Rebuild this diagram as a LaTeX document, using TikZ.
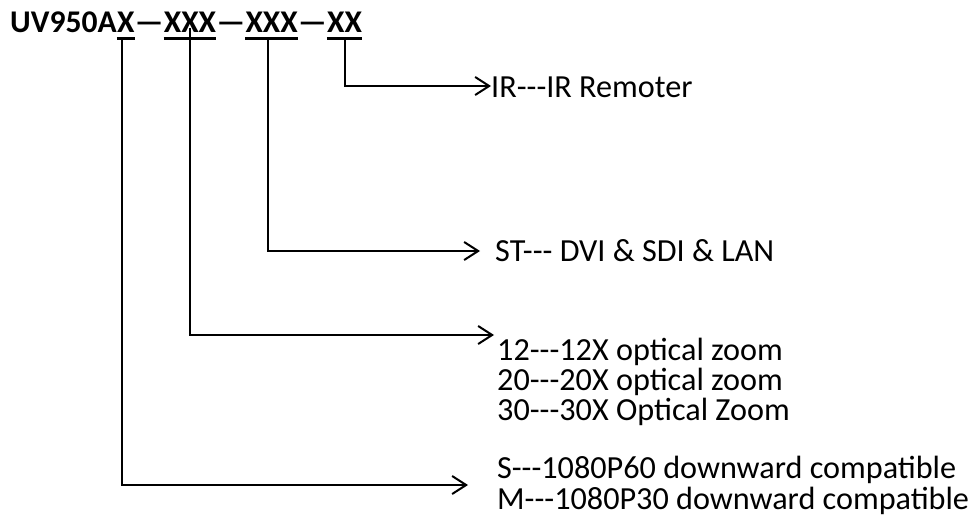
\documentclass[tikz,border=0pt]{standalone}
\usepackage{fontspec}
\setmainfont{Carlito}[Ligatures=TeXOff]
\usetikzlibrary{arrows.meta,positioning}

\begin{document}
\begin{tikzpicture}[x=1pt,y=-1pt,
    part/.style={inner sep=0pt, anchor=base west, font=\fontsize{31.6}{32}\selectfont\bfseries},
    desc/.style={inner sep=0pt, anchor=base west, font=\fontsize{32.2}{32}\selectfont},
    uline/.style={line width=3pt},
    link/.style={line width=2pt, -{Straight Barb[length=14pt,width=18pt,line width=2pt]}}]
    \useasboundingbox (0,0) rectangle (977,519);

    % Model code
    \node[part] (prefix) at (10,33) {UV950A};
    \node[part] (res) at (prefix.base east) {X};
    \node[part] (d1) at (res.base east) {—};
    \node[part] (zoom) at (d1.base east) {XXX};
    \node[part] (d2) at (zoom.base east) {—};
    \node[part] (iface) at (d2.base east) {XXX};
    \node[part] (d3) at (iface.base east) {—};
    \node[part] (ctrl) at (d3.base east) {XX};

    % Underlines
    \foreach \p in {res,zoom,iface,ctrl}
        \draw[uline] ([yshift=-5.5pt]\p.base west) -- ([yshift=-5.5pt]\p.base east);

    % Options
    \node[desc] (irtxt) at (491,97) {IR---IR Remoter};
    \node[desc] (sttxt) at (495,261) {ST--- DVI \& SDI \& LAN};
    \node[desc] (z12) at (497,360) {12---12X optical zoom};
    \node[desc] (z20) at (497,390) {20---20X optical zoom};
    \node[desc] (z30) at (497,420) {30---30X Optical Zoom};
    \node[desc] (modeS) at (497,478) {S---1080P60 downward compatible};
    \node[desc] (modeM) at (497,509) {M---1080P30 downward compatible};

    \coordinate (irend) at (491,86);
    \coordinate (stend) at (480,251);
    \coordinate (zoomend) at (494,335);
    \coordinate (modeend) at (468,485);

    % Connectors
    \draw[link] ([yshift=-7pt]ctrl.base) |- (irend);
    \draw[link] ([xshift=-4pt,yshift=-7pt]iface.base) |- (stend);
    \draw[link] ([yshift=5pt]zoom.base) |- (zoomend);
    \draw[link] ([xshift=-4pt,yshift=-7pt]res.base) |- (modeend);
\end{tikzpicture}
\end{document}
